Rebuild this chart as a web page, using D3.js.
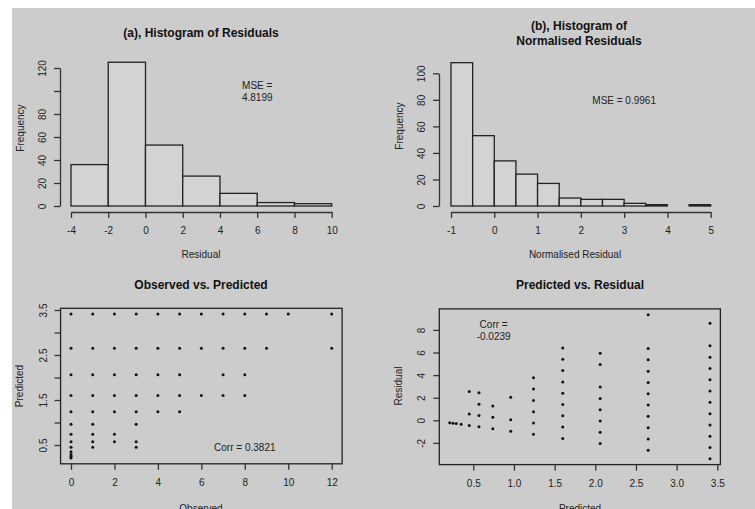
<!DOCTYPE html>
<html>
<head>
<meta charset="utf-8">
<script src="https://cdn.jsdelivr.net/npm/d3@7"></script>
<style>
  body { margin: 0; background: #fff; }
  svg text { font-family: "Liberation Sans", Arial, sans-serif; fill: #222; }
  .title { font-weight: bold; font-size: 12px; fill: #111; }
  .tick text, .lab { font-size: 10px; }
  .axis path, .axis line { stroke: #333; stroke-width: 1.3; }
</style>
</head>
<body>
<script>
// (a) histogram of residuals
const residBreaks = [-4, -2, 0, 2, 4, 6, 8, 10];
const residCounts = [36, 125, 53, 26, 11, 3, 2];
const residYTicks = [0, 20, 40, 60, 80, 100, 120];
const residYLabelled = [0, 20, 40, 60, 80, 120];

// (b) histogram of normalised residuals
const normBreaks = [-1, -0.5, 0, 0.5, 1, 1.5, 2, 2.5, 3, 3.5, 4, 4.5, 5];
const normCounts = [108, 53, 34, 24, 17, 6, 5, 5, 2, 1, 0, 1];
const normXTicks = [-1, 0, 1, 2, 3, 4, 5];
const normYTicks = [0, 20, 40, 60, 80, 100];

// scatter data: predicted levels and the observed counts at each level
const predLevels = [0.21, 0.25, 0.29, 0.35, 0.45, 0.57, 0.74, 0.96, 1.24, 1.60, 2.06, 2.65, 3.41];
const observedAt = [
  [0], [0], [0], [0],
  [0, 1, 3],
  [0, 1, 2, 3],
  [0, 1, 2],
  [0, 1, 3],
  [0, 1, 2, 3, 4, 5],
  [0, 1, 2, 3, 4, 5, 6, 7, 8],
  [0, 1, 2, 3, 4, 5, 7, 8],
  [0, 1, 2, 3, 4, 5, 6, 7, 8, 9, 12],
  [0, 1, 2, 3, 4, 5, 6, 7, 8, 9, 10, 12]
];
const obsXTicks = [0, 2, 4, 6, 8, 10, 12];
const predYTicks = [0.5, 1, 1.5, 2, 2.5, 3, 3.5];
const predYLabelled = [0.5, 1.5, 2.5, 3.5];
const predXTicks = [0.5, 1, 1.5, 2, 2.5, 3, 3.5];
const residTicks2 = [-2, 0, 2, 4, 6, 8];

const points = [];
predLevels.forEach((p, i) => observedAt[i].forEach(o => points.push({obs: o, pred: p, res: o - p})));

const svg = d3.select("body").append("svg")
  .attr("width", 755).attr("height", 509);

svg.append("rect")
  .attr("x", 12).attr("y", 8)
  .attr("width", 743).attr("height", 501)
  .attr("fill", "#cccccc");

// plain hyphen minus, like R
const intFmt = d => String(d);
const oneDp = d => d.toFixed(1);

// y tick labels rotated like base R
const rotLabels = (g, shown) => {
  g.selectAll(".tick text")
    .attr("x", 0).attr("y", -14).attr("dy", 0)
    .attr("transform", "rotate(-90)")
    .attr("text-anchor", "middle")
    .text(d => shown.includes(d) ? String(d) : "");
};

const xAxis = (x, y0, ticks, fmt, domain) => {
  const g = svg.append("g").attr("class", "axis")
    .attr("transform", "translate(0," + y0 + ")")
    .call(d3.axisBottom(x).tickValues(ticks).tickFormat(fmt).tickSize(6).tickSizeOuter(0).tickPadding(9));
  if (!domain) g.select(".domain").remove();
  return g;
};
const yAxis = (y, x0, ticks, shown, domain) => {
  const g = svg.append("g").attr("class", "axis")
    .attr("transform", "translate(" + x0 + ",0)")
    .call(d3.axisLeft(y).tickValues(ticks).tickSize(6).tickSizeOuter(0));
  if (!domain) g.select(".domain").remove();
  rotLabels(g, shown);
  return g;
};

const label = (x, y, txt, rot, cls) => {
  const t = svg.append("text")
    .attr("class", cls || "lab")
    .attr("text-anchor", "middle")
    .attr("dominant-baseline", "central")
    .attr("transform", "translate(" + x + "," + y + ")" + (rot ? " rotate(-90)" : ""));
  txt.split("\n").forEach((s, i, arr) => {
    t.append("tspan").attr("x", 0)
      .attr("y", (i - (arr.length - 1) / 2) * (cls === "title" ? 15 : 12.5))
      .text(s);
  });
};

const histogram = (breaks, counts, x, y) => {
  svg.append("g").selectAll("rect")
    .data(counts)
    .join("rect")
    .attr("x", (d, i) => x(breaks[i]))
    .attr("width", (d, i) => x(breaks[i + 1]) - x(breaks[i]))
    .attr("y", d => y(d))
    .attr("height", d => y(0) - y(d))
    .attr("fill", "#d3d3d3")
    .attr("stroke", "#222")
    .attr("stroke-width", 1.3);
};

// ---- (a)
{
  const x = d3.scaleLinear([-4, 10], [71, 331.7]);
  const y = d3.scaleLinear([0, 120], [206, 68]);
  histogram(residBreaks, residCounts, x, y);
  xAxis(x, 212, residBreaks, intFmt, true);
  yAxis(y, 60, residYTicks, residYLabelled, true);
  label(201, 33, "(a), Histogram of Residuals", false, "title");
  label(201, 254, "Residual");
  label(20, 128, "Frequency", true);
  label(x(6), y(100), "MSE =\n4.8199");
}

// ---- (b)
{
  const x = d3.scaleLinear([-1, 5], [451, 710.7]);
  const y = d3.scaleLinear([0, 100], [206, 73.3]);
  histogram(normBreaks, normCounts, x, y);
  xAxis(x, 212, normXTicks, intFmt, true);
  yAxis(y, 439, normYTicks, normYTicks, true);
  label(579, 33, "(b), Histogram of\nNormalised Residuals", false, "title");
  label(575, 254, "Normalised Residual");
  label(399, 126, "Frequency", true);
  label(x(3), y(80), "MSE = 0.9961");
}

const box = (x, y, xs, ys) => {
  const ex = d3.extent(xs), ey = d3.extent(ys);
  const px = (ex[1] - ex[0]) * 0.04, py = (ey[1] - ey[0]) * 0.04;
  svg.append("rect")
    .attr("x", x(ex[0] - px)).attr("y", y(ey[1] + py))
    .attr("width", x(ex[1] + px) - x(ex[0] - px))
    .attr("height", y(ey[0] - py) - y(ey[1] + py))
    .attr("fill", "none").attr("stroke", "#222").attr("stroke-width", 1.3);
  return {left: x(ex[0] - px), bottom: y(ey[0] - py)};
};

const dots = (x, y, fx, fy) => {
  svg.append("g").selectAll("circle")
    .data(points)
    .join("circle")
    .attr("cx", d => x(fx(d)))
    .attr("cy", d => y(fy(d)))
    .attr("r", 1.5)
    .attr("fill", "#111");
};

// ---- (c)
{
  const x = d3.scaleLinear([0, 12], [71, 331.7]);
  const y = d3.scaleLinear([0.5, 3.5], [445, 310]);
  const b = box(x, y, points.map(d => d.obs), points.map(d => d.pred));
  dots(x, y, d => d.obs, d => d.pred);
  xAxis(x, b.bottom, obsXTicks, intFmt, false);
  yAxis(y, b.left, predYTicks, predYLabelled, false);
  label(201, 285, "Observed vs. Predicted", false, "title");
  label(201, 508, "Observed");
  label(19, 386, "Predicted", true);
  label(x(8), y(0.45), "Corr = 0.3821");
}

// ---- (d)
{
  const x = d3.scaleLinear([0.5, 3.5], [473.3, 717.3]);
  const y = d3.scaleLinear([0, 8], [420.3, 329.9]);
  const b = box(x, y, points.map(d => d.pred), points.map(d => d.res));
  dots(x, y, d => d.pred, d => d.res);
  xAxis(x, b.bottom, predXTicks, oneDp, false);
  yAxis(y, b.left, residTicks2, residTicks2, false);
  label(580, 285, "Predicted vs. Residual", false, "title");
  label(580, 508, "Predicted");
  label(398, 386, "Residual", true);
  label(x(0.75), y(8), "Corr =\n-0.0239");
}
</script>
</body>
</html>
